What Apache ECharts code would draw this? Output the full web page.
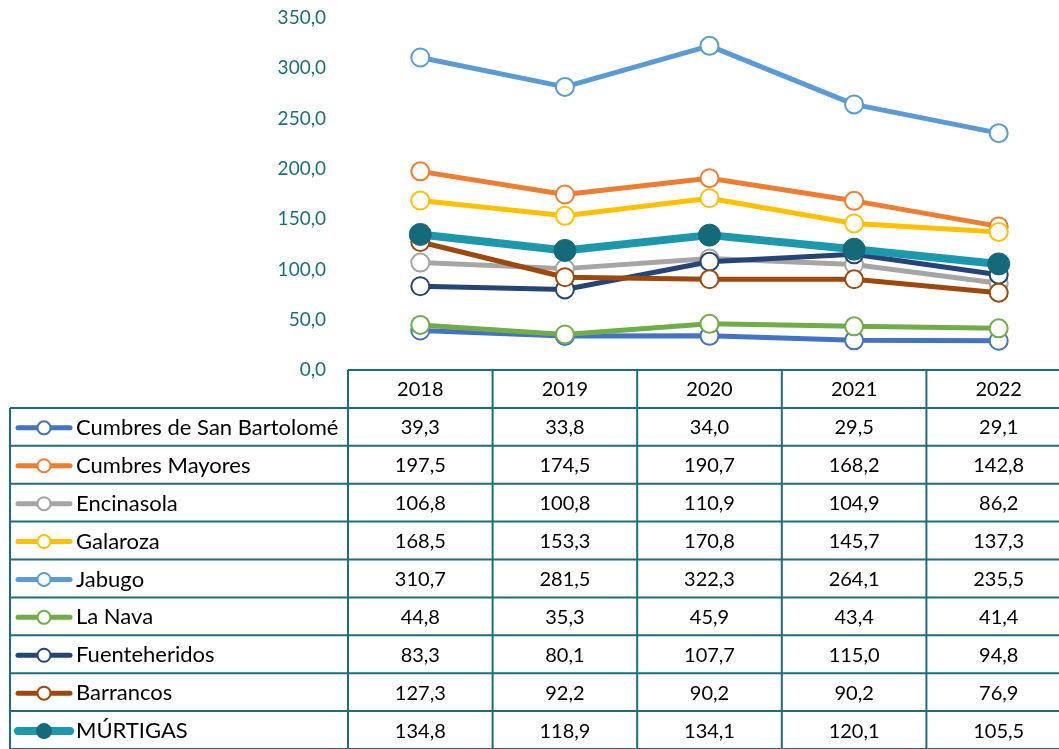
<!DOCTYPE html>
<html>
<head>
<meta charset="utf-8">
<script src="https://cdn.jsdelivr.net/npm/echarts@6/dist/echarts.min.js"></script>
<style>
  html, body { margin: 0; padding: 0; background: #fff; }
  #chart { width: 1059px; height: 749px; }
</style>
</head>
<body>
<div id="chart"></div>
<script>
// datos
const years = ['2018', '2019', '2020', '2021', '2022'];
const names = ['Cumbres de San Bartolomé', 'Cumbres Mayores', 'Encinasola', 'Galaroza', 'Jabugo', 'La Nava', 'Fuenteheridos', 'Barrancos', 'MÚRTIGAS'];
const cumbresSB = [39.3, 33.8, 34.0, 29.5, 29.1];
const cumbresMayores = [197.5, 174.5, 190.7, 168.2, 142.8];
const encinasola = [106.8, 100.8, 110.9, 104.9, 86.2];
const galaroza = [168.5, 153.3, 170.8, 145.7, 137.3];
const jabugo = [310.7, 281.5, 322.3, 264.1, 235.5];
const laNava = [44.8, 35.3, 45.9, 43.4, 41.4];
const fuenteheridos = [83.3, 80.1, 107.7, 115.0, 94.8];
const barrancos = [127.3, 92.2, 90.2, 90.2, 76.9];
const murtigas = [134.8, 118.9, 134.1, 120.1, 105.5];
const yTicks = [0, 50, 100, 150, 200, 250, 300, 350];

const allData = [cumbresSB, cumbresMayores, encinasola, galaroza, jabugo, laNava, fuenteheridos, barrancos, murtigas];
const colors = ['#4472C4', '#ED7D31', '#A5A5A5', '#FFC000', '#5B9BD5', '#70AD47', '#264478', '#9E480E', '#1B98AC'];
const murtigasMarker = '#146A79';
const teal = '#1C6E7D';
const font = 'Lato, "Open Sans", sans-serif';

const fmt = v => v.toFixed(1).replace('.', ',');

let chart = echarts.init(document.getElementById('chart'));

let series = names.map((n, i) => {
  const last = i === names.length - 1;
  return {
    name: n,
    type: 'line',
    data: allData[i],
    symbol: 'circle',
    symbolSize: last ? 22 : 18,
    lineStyle: { color: colors[i], width: last ? 8 : 5 },
    itemStyle: last
      ? { color: murtigasMarker, borderColor: murtigasMarker, borderWidth: 1 }
      : { color: '#fff', borderColor: colors[i], borderWidth: 2 },
    emphasis: { disabled: true },
    animation: false,
    z: 2 + i
  };
});

let option = {
  animation: false,
  grid: { left: 348, width: 723, top: 18, bottom: 379, outerBoundsMode: 'none', containLabel: false },
  xAxis: {
    type: 'category',
    data: years,
    boundaryGap: true,
    axisLine: { show: false },
    axisTick: { show: false },
    axisLabel: { show: false }
  },
  yAxis: {
    type: 'value',
    min: yTicks[0],
    max: yTicks[yTicks.length - 1],
    interval: 50,
    splitLine: { show: false },
    axisLine: { show: false },
    axisTick: { show: false },
    axisLabel: {
      formatter: v => fmt(v),
      color: teal,
      fontSize: 19,
      fontFamily: font,
      margin: 22
    }
  },
  series: series
};
chart.setOption(option);

// tabla de datos
const centers = years.map(y => chart.convertToPixel({ xAxisIndex: 0 }, y));
const band = centers[1] - centers[0];
const tableLeft = 10;
const colLeft = centers[0] - band / 2;
const colRight = centers[centers.length - 1] + band / 2;
const tableTop = chart.convertToPixel({ yAxisIndex: 0 }, 0);
const rowH = 37.9;

let g = [];
const line = (x1, y1, x2, y2) => g.push({
  type: 'line', shape: { x1, y1, x2, y2 },
  style: { stroke: teal, lineWidth: 2 }, z: 50, silent: true
});
const text = (x, y, s, align, size) => g.push({
  type: 'text', x, y,
  style: { text: s, fill: '#000', font: (size || 20) + 'px ' + font, align: align || 'center', verticalAlign: 'middle' },
  z: 51, silent: true
});

// cabecera
line(colLeft, tableTop, colRight, tableTop);
years.forEach((y, i) => text(centers[i], tableTop + rowH / 2 + 1, y));
// líneas horizontales
for (let r = 1; r <= names.length + 1; r++) {
  line(tableLeft, tableTop + r * rowH, colRight, tableTop + r * rowH);
}
// líneas verticales
line(tableLeft, tableTop + rowH, tableLeft, 749);
for (let c = 0; c <= years.length; c++) {
  line(colLeft + c * band, tableTop, colLeft + c * band, 749);
}
// filas
names.forEach((n, i) => {
  const cy = tableTop + (i + 1) * rowH + rowH / 2 + 1;
  const last = i === names.length - 1;
  g.push({
    type: 'line', shape: { x1: 18, y1: cy, x2: 70, y2: cy },
    style: { stroke: colors[i], lineWidth: last ? 8 : 5, lineCap: 'round' }, z: 52, silent: true
  });
  g.push({
    type: 'circle', shape: { cx: 44, cy: cy, r: last ? 8 : 6.5 },
    style: last ? { fill: murtigasMarker } : { fill: '#fff', stroke: colors[i], lineWidth: 2 },
    z: 53, silent: true
  });
  text(76, cy, n, 'left', 22);
  allData[i].forEach((v, j) => text(centers[j], cy, fmt(v)));
});

chart.setOption({ graphic: { elements: g } });
</script>
</body>
</html>
